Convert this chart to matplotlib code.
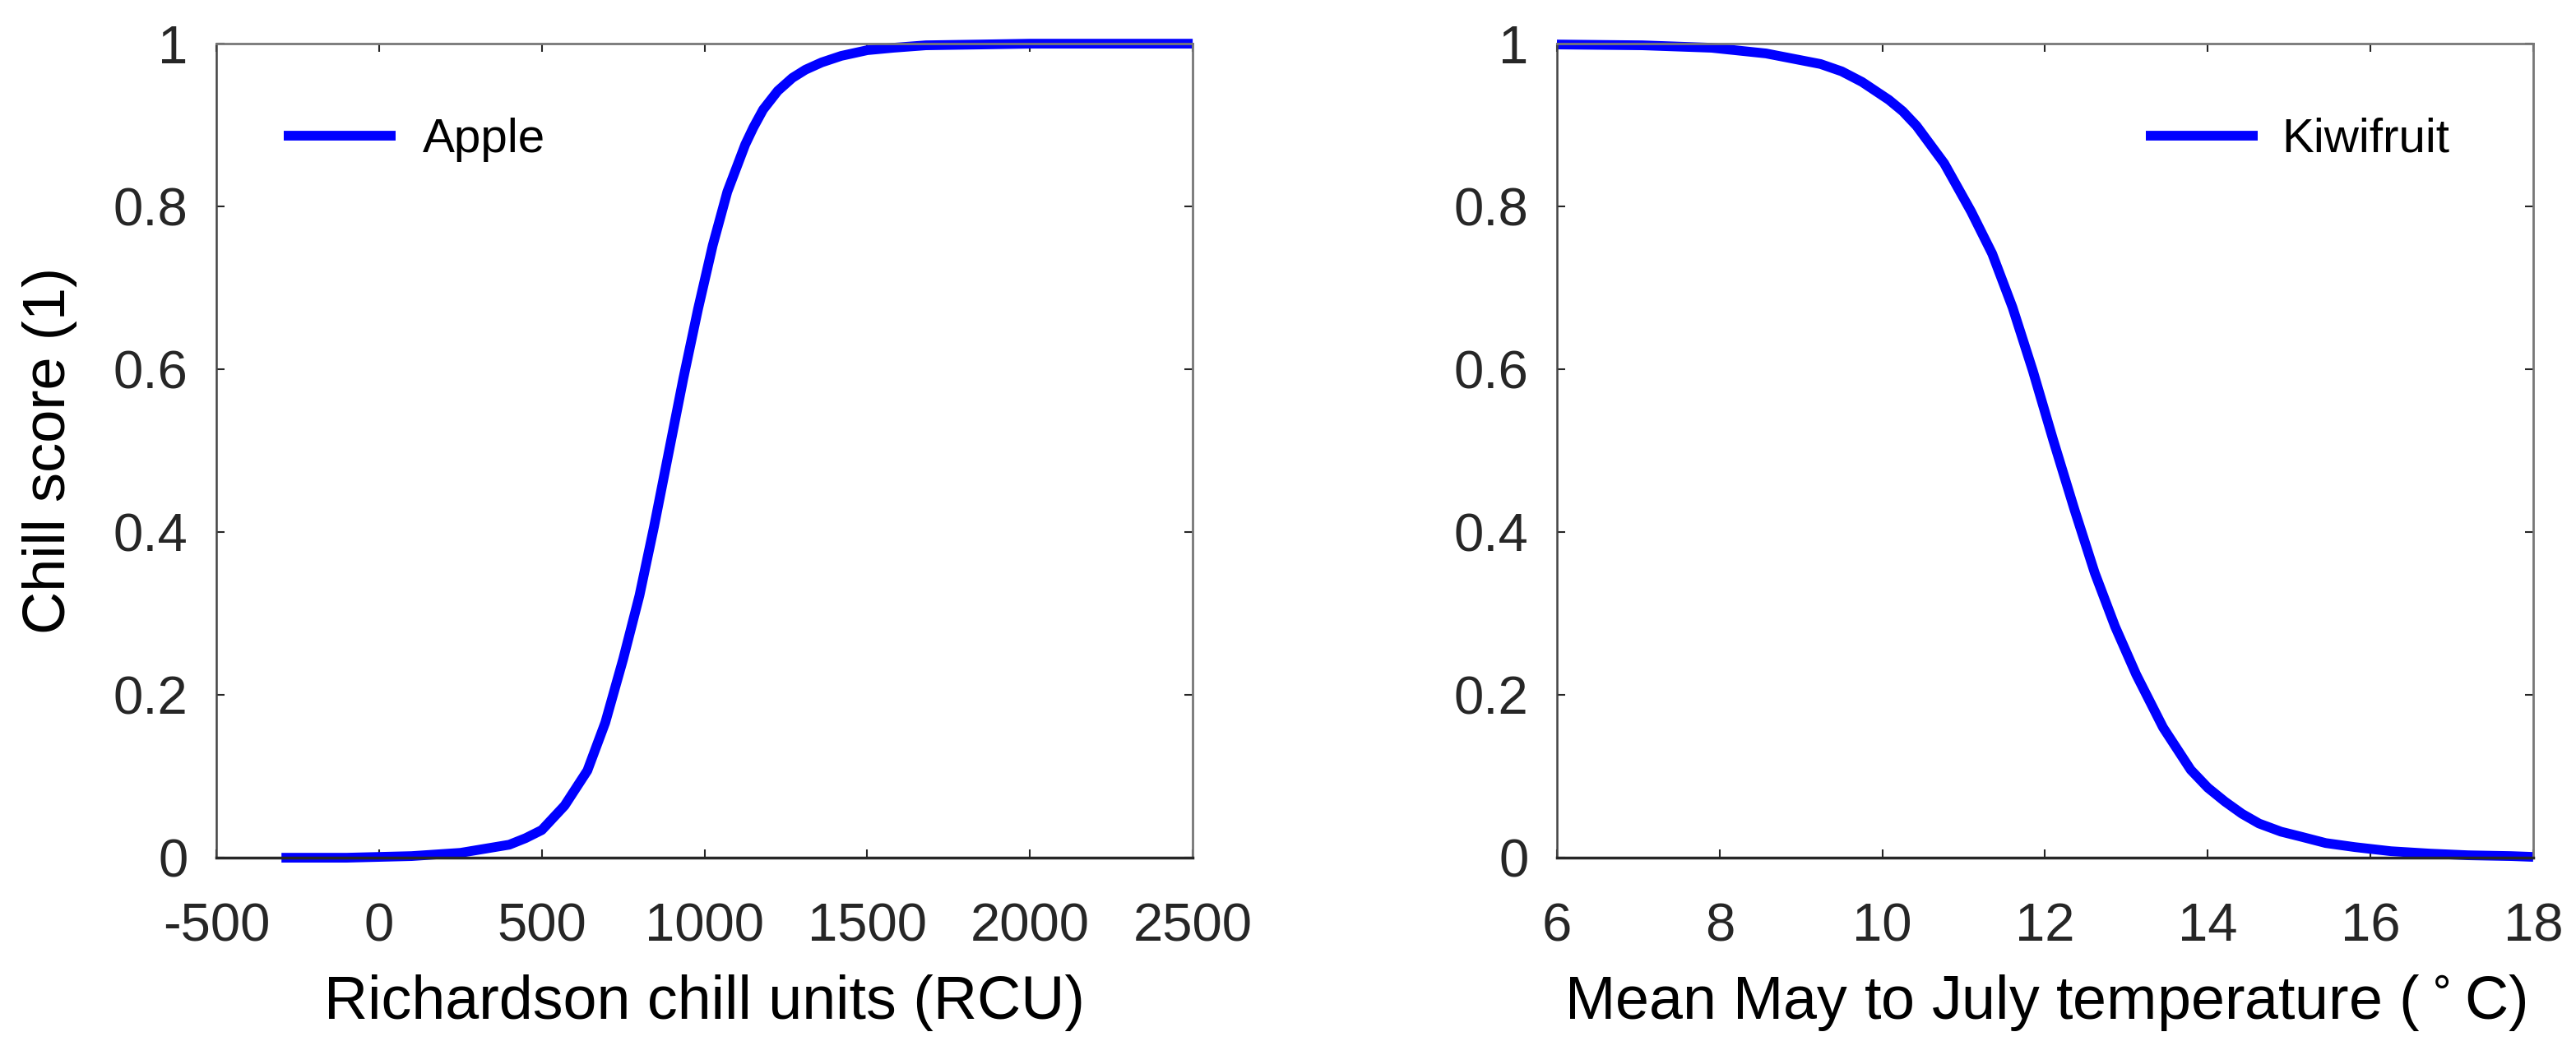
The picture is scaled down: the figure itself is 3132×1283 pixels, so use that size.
import matplotlib
matplotlib.use("Agg")
import matplotlib.pyplot as plt

plt.rcParams['font.family'] = ['Liberation Sans', 'DejaVu Sans']
plt.rcParams['axes.unicode_minus'] = False

# values
apple_rcu = [-300, -100, 100, 250, 400, 450, 500, 570, 640, 695, 750, 800, 845, 890, 935,
             980, 1025, 1070, 1125, 1150, 1180, 1225, 1270, 1310, 1360, 1420, 1500, 1580,
             1680, 1850, 2000, 2500]
apple_score = [0.000, 0.000, 0.002, 0.006, 0.016, 0.024, 0.034, 0.064, 0.107, 0.166,
               0.244, 0.322, 0.407, 0.498, 0.589, 0.674, 0.752, 0.818, 0.876, 0.897,
               0.919, 0.942, 0.958, 0.968, 0.977, 0.985, 0.992, 0.995, 0.998, 0.999,
               1.000, 1.000]

kiwi_temp = [6.0, 7.05, 7.9, 8.57, 9.24, 9.5, 9.75, 10.08, 10.25, 10.42, 10.76, 11.09,
             11.35, 11.6, 11.85, 12.1, 12.36, 12.61, 12.86, 13.12, 13.45, 13.79, 14.0,
             14.21, 14.42, 14.63, 14.9, 15.14, 15.45, 15.81, 16.25, 16.74, 17.2, 17.73, 18.0]
kiwi_score = [0.999, 0.998, 0.995, 0.988, 0.975, 0.966, 0.953, 0.931, 0.917, 0.899, 0.853,
              0.794, 0.742, 0.676, 0.598, 0.513, 0.428, 0.350, 0.284, 0.225, 0.160, 0.108,
              0.086, 0.069, 0.054, 0.042, 0.032, 0.026, 0.018, 0.013, 0.008, 0.005, 0.003,
              0.002, 0.001]

apple_xticks = [-500, 0, 500, 1000, 1500, 2000, 2500]
kiwi_xticks = [6, 8, 10, 12, 14, 16, 18]
yticks = [0, 0.2, 0.4, 0.6, 0.8, 1]
ytick_labels = ['0', '0.2', '0.4', '0.6', '0.8', '1']

fig = plt.figure(figsize=(31.32, 12.83), dpi=100)
ax1 = fig.add_axes([0.0840, 0.187, 0.3790, 0.7716])
ax2 = fig.add_axes([0.6044, 0.187, 0.3790, 0.7716])


def style(ax):
    ax.set_ylim(0, 1)
    ax.set_yticks(yticks)
    ax.set_yticklabels(ytick_labels)
    ax.tick_params(direction='in', length=7.5, width=1.5, colors='#262626',
                   top=True, right=True, labelsize=47)
    ax.tick_params(axis='x', pad=39)
    ax.tick_params(axis='y', pad=25)
    ax.spines['bottom'].set_color('#262626')
    ax.spines['bottom'].set_linewidth(2.5)
    ax.spines['left'].set_color('#444444')
    ax.spines['left'].set_linewidth(1.8)
    for s in ['top', 'right']:
        ax.spines[s].set_color('#777777')
        ax.spines[s].set_linewidth(2)
    ax.xaxis.set_label_coords(0.5, -0.198)
    ax.xaxis.label.set_va('baseline')


ax1.plot(apple_rcu, apple_score, color='blue', lw=8.5, label='Apple',
         solid_capstyle='butt', clip_on=False)
ax1.set_xlim(-500, 2500)
ax1.set_xticks(apple_xticks)
style(ax1)
ax1.set_xlabel('Richardson chill units (RCU)', fontsize=53)
ax1.set_ylabel('Chill score (1)', fontsize=52)
ax1.yaxis.set_label_coords(-0.171, 0.5)
ax1.yaxis.label.set_va('center')
ax1.legend(loc='center left', bbox_to_anchor=(0.069, 0.882), frameon=False, fontsize=42,
           handlelength=2.33, handletextpad=0.57, borderpad=0, borderaxespad=0)

ax2.plot(kiwi_temp, kiwi_score, color='blue', lw=8.5, label='Kiwifruit',
         solid_capstyle='butt', clip_on=False)
ax2.set_xlim(6, 18)
ax2.set_xticks(kiwi_xticks)
style(ax2)
ax2.set_xlabel('Mean May to July temperature ($^\\circ$C)', fontsize=53)
ax2.legend(loc='center left', bbox_to_anchor=(0.603, 0.882), frameon=False, fontsize=42,
           handlelength=2.33, handletextpad=0.5, borderpad=0, borderaxespad=0)

fig.savefig('out.png', dpi=100, facecolor='white')
